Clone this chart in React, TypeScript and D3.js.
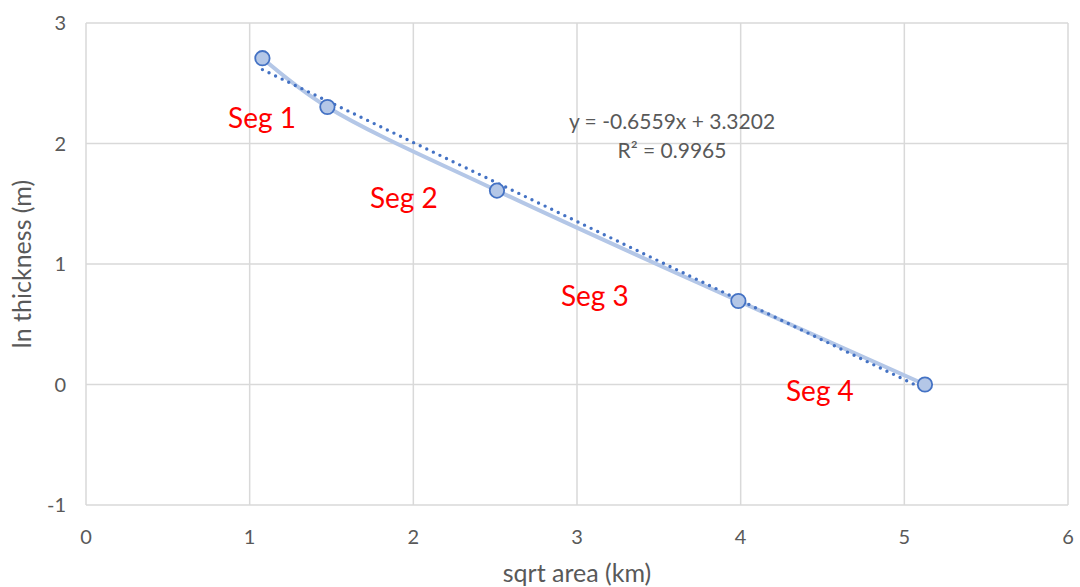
import React from "react";
import * as d3 from "d3";

const sqrtArea = [1.078, 1.475, 2.511, 3.986, 5.126];
const lnThickness = [2.708, 2.303, 1.609, 0.693, 0.0];
const xTicks = [0, 1, 2, 3, 4, 5, 6];
const yTicks = [-1, 0, 1, 2, 3];
const trendSlope = -0.6559;
const trendIntercept = 3.3202;
const equationLines = ["y = -0.6559x + 3.3202", "R² = 0.9965"];
const segLabels = [
  { text: "Seg 1", x: 0.868, y: 2.127 },
  { text: "Seg 2", x: 1.735, y: 1.463 },
  { text: "Seg 3", x: 2.902, y: 0.648 },
  { text: "Seg 4", x: 4.277, y: -0.133 },
];

const W = 1080;
const H = 587;
const M = { left: 86, right: 12, top: 23, bottom: 82 };

export default function App() {
  const x = d3.scaleLinear().domain([0, 6]).range([M.left, W - M.right]);
  const y = d3.scaleLinear().domain([-1, 3]).range([H - M.bottom, M.top]);
  const pts = sqrtArea.map((v, i) => [v, lnThickness[i]] as [number, number]);
  const line = d3
    .line<[number, number]>()
    .x((d) => x(d[0]))
    .y((d) => y(d[1]))
    .curve(d3.curveCatmullRom.alpha(0.5));
  const xMin = d3.min(sqrtArea)!;
  const xMax = d3.max(sqrtArea)!;
  const font = "Lato, 'Open Sans', sans-serif";
  const grey = "#595959";
  return (
    <svg
      width={W}
      height={H}
      style={{ position: "absolute", left: 0, top: 0, background: "#fff" }}
      fontFamily={font}
    >
      {xTicks.map((t) => (
        <line key={"gx" + t} x1={x(t)} x2={x(t)} y1={y(-1)} y2={y(3)} stroke="#d9d9d9" strokeWidth={1.5} />
      ))}
      {yTicks.map((t) => (
        <line key={"gy" + t} x1={x(0)} x2={x(6)} y1={y(t)} y2={y(t)} stroke="#d9d9d9" strokeWidth={1.5} />
      ))}
      {xTicks.map((t) => (
        <text key={"tx" + t} x={x(t)} y={y(-1) + 39} textAnchor="middle" fontSize={20} fill={grey}>
          {t}
        </text>
      ))}
      {yTicks.map((t) => (
        <text key={"ty" + t} x={x(0) - 20} y={y(t) + 7} textAnchor="end" fontSize={20} fill={grey}>
          {t}
        </text>
      ))}
      <text x={577} y={582} textAnchor="middle" fontSize={25} fill={grey}>
        sqrt area (km)
      </text>
      <text
        transform={`translate(31,${(y(-1) + y(3)) / 2}) rotate(-90)`}
        textAnchor="middle"
        fontSize={25}
        fill={grey}
      >
        ln thickness (m)
      </text>
      <path d={line(pts) || ""} fill="none" stroke="#b4c7e7" strokeWidth={4} />
      <line
        x1={x(xMin)}
        y1={y(trendSlope * xMin + trendIntercept)}
        x2={x(xMax)}
        y2={y(trendSlope * xMax + trendIntercept)}
        stroke="#4472c4"
        strokeWidth={3.4}
        strokeDasharray="0 7.3"
        strokeLinecap="round"
      />
      {pts.map((p, i) => (
        <circle key={"p" + i} cx={x(p[0])} cy={y(p[1])} r={7.2} fill="#b4c7e7" stroke="#4472c4" strokeWidth={1.8} />
      ))}
      {equationLines.map((s, i) => (
        <text key={"eq" + i} x={672} y={129 + i * 29} textAnchor="middle" fontSize={21} fill={grey}>
          {s}
        </text>
      ))}
      {segLabels.map((s) => (
        <text key={s.text} x={x(s.x)} y={y(s.y)} fontSize={28} fill="#ff0000">
          {s.text}
        </text>
      ))}
    </svg>
  );
}
